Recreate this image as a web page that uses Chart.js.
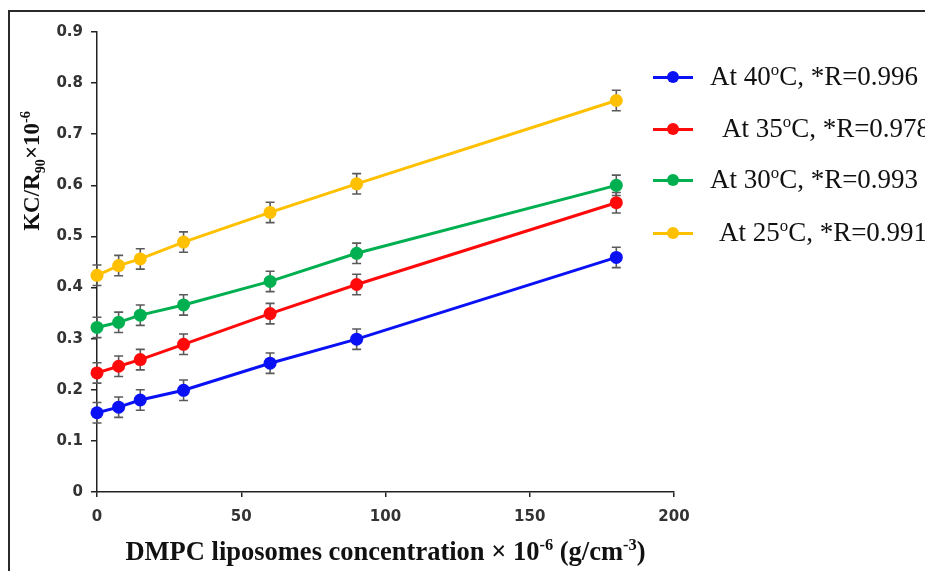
<!DOCTYPE html>
<html lang="en">
<head>
    <meta charset="UTF-8">
    <title>KC/R90 vs DMPC liposomes concentration</title>
    <script src="https://cdn.jsdelivr.net/npm/chart.js"></script>
    <style>
        body {
            margin: 0;
            background: #ffffff;
        }

        .wrap {
            position: relative;
            width: 925px;
            height: 571px;
            overflow: hidden;
        }

        .frame {
            position: absolute;
            left: 8px;
            top: 10px;
            width: 940px;
            height: 600px;
            border-top: 2px solid #2a2a2a;
            border-left: 2px solid #2a2a2a;
        }

        canvas {
            position: absolute;
            left: 0;
            top: 0;
        }

        .x-title {
            position: absolute;
            left: 97px;
            width: 577px;
            top: 536px;
            text-align: center;
            font: bold 26.5px "Liberation Serif", "Times New Roman", serif;
            color: #111;
            white-space: nowrap;
        }

        .y-title {
            position: absolute;
            left: 32px;
            top: 171px;
            transform: translate(-50%, -50%) rotate(-90deg);
            font: bold 23px "Liberation Serif", "Times New Roman", serif;
            color: #111;
            white-space: nowrap;
        }

        sup, sub {
            font-size: 62%;
            line-height: 0;
        }

        .legend-item {
            position: absolute;
            height: 0;
        }

        .legend-item .swatch {
            position: absolute;
            left: 0;
            top: -1.5px;
            width: 40px;
            height: 3px;
        }

        .legend-item .dot {
            position: absolute;
            left: 14px;
            top: -6px;
            width: 12px;
            height: 12px;
            border-radius: 50%;
        }

        .legend-item .label {
            position: absolute;
            top: -17px;
            font: 27px "Liberation Serif", "Times New Roman", serif;
            color: #111;
            white-space: nowrap;
            line-height: 32px;
        }
    </style>
</head>
<body>
<div class="wrap">
    <canvas id="kcChart" width="925" height="571"></canvas>
    <div class="frame"></div>
    <div class="y-title">KC/R<sub>90</sub>×10<sup>-6</sup></div>
    <div class="x-title">DMPC liposomes concentration × 10<sup>-6</sup> (g/cm<sup>-3</sup>)</div>
    <div id="legend"></div>
</div>

<script>
    // concentration of DMPC liposomes (x 10^-6 g/cm^3)
    var concentration = [0, 7.5, 15, 30, 60, 90, 180];

    // KC/R90 x 10^-6 at each temperature
    var kc40 = [0.155, 0.166, 0.180, 0.199, 0.252, 0.299, 0.459];
    var kc35 = [0.233, 0.246, 0.259, 0.289, 0.349, 0.406, 0.566];
    var kc30 = [0.322, 0.332, 0.346, 0.366, 0.412, 0.467, 0.600];
    var kc25 = [0.424, 0.443, 0.456, 0.489, 0.547, 0.603, 0.766];

    // standard error used for every point
    var errorBar = 0.02;

    var seriesTemps = ['40', '35', '30', '25'];
    var seriesR = ['0.996', '0.978', '0.993', '0.991'];
    var seriesColors = ['#0a12f5', '#ff0a0a', '#00b050', '#ffc000'];

    var xTicks = [0, 50, 100, 150, 200];
    var yTicks = [0, 0.1, 0.2, 0.3, 0.4, 0.5, 0.6, 0.7, 0.8, 0.9];

    function toPoints(ys) {
        return concentration.map(function (c, i) { return { x: c, y: ys[i] }; });
    }

    var datasets = [kc40, kc35, kc30, kc25].map(function (ys, i) {
        return {
            label: 'At ' + seriesTemps[i] + 'oC, *R=' + seriesR[i],
            data: toPoints(ys),
            borderColor: seriesColors[i],
            backgroundColor: seriesColors[i],
            borderWidth: 3,
            pointRadius: 6.5,
            pointHoverRadius: 6.5,
            pointBorderWidth: 0,
            tension: 0,
            clip: false
        };
    });

    // vertical error bars with caps, drawn from the scales
    var errorBars = {
        id: 'errorBars',
        beforeDatasetsDraw: function (chart) {
            var ctx = chart.ctx;
            var xs = chart.scales.x, ys = chart.scales.y;
            ctx.save();
            ctx.strokeStyle = '#5a5a5a';
            ctx.lineWidth = 1.6;
            chart.data.datasets.forEach(function (ds) {
                ds.data.forEach(function (p) {
                    var px = xs.getPixelForValue(p.x);
                    var top = ys.getPixelForValue(p.y + errorBar);
                    var bot = ys.getPixelForValue(p.y - errorBar);
                    ctx.beginPath();
                    ctx.moveTo(px, top); ctx.lineTo(px, bot);
                    ctx.moveTo(px - 4.5, top); ctx.lineTo(px + 4.5, top);
                    ctx.moveTo(px - 4.5, bot); ctx.lineTo(px + 4.5, bot);
                    ctx.stroke();
                });
            });
            ctx.restore();
        }
    };

    var tickFont = { family: '"DejaVu Sans", Verdana, sans-serif', size: 15, weight: 'bold' };

    var ctx = document.getElementById('kcChart').getContext('2d');
    var kcChart = new Chart(ctx, {
        type: 'line',
        data: { datasets: datasets },
        options: {
            responsive: false,
            animation: false,
            layout: { padding: { left: 0, top: 32, right: 251, bottom: 39 } },
            plugins: {
                legend: { display: false },
                tooltip: { enabled: false }
            },
            scales: {
                x: {
                    type: 'linear',
                    min: 0,
                    max: 200,
                    afterBuildTicks: function (s) { s.ticks = xTicks.map(function (v) { return { value: v }; }); },
                    afterFit: function (s) { s.height = 40; },
                    grid: { drawOnChartArea: false, drawTicks: true, tickLength: 5, color: '#222', lineWidth: 1.5 },
                    border: { color: '#222', width: 1.5 },
                    ticks: { font: tickFont, color: '#333', padding: 11, maxRotation: 0 }
                },
                y: {
                    min: 0,
                    max: 0.9,
                    afterBuildTicks: function (s) { s.ticks = yTicks.map(function (v) { return { value: v }; }); },
                    afterFit: function (s) { s.width = 97; },
                    grid: { drawOnChartArea: false, drawTicks: true, tickLength: 6, color: '#222', lineWidth: 1.5 },
                    border: { color: '#222', width: 1.5 },
                    ticks: {
                        font: tickFont,
                        color: '#333',
                        padding: 8,
                        callback: function (v) { return String(Math.round(v * 10) / 10); }
                    }
                }
            }
        },
        plugins: [errorBars]
    });

    // legend to the right of the plot
    var legendRows = [77, 129, 180, 233];
    var legendText = [710, 722, 710, 719];
    var legend = document.getElementById('legend');
    seriesTemps.forEach(function (t, i) {
        var item = document.createElement('div');
        item.className = 'legend-item';
        item.style.left = '653px';
        item.style.top = legendRows[i] + 'px';
        item.innerHTML =
            '<div class="swatch" style="background:' + seriesColors[i] + '"></div>' +
            '<div class="dot" style="background:' + seriesColors[i] + '"></div>' +
            '<div class="label" style="left:' + (legendText[i] - 653) + 'px">At ' + t +
            '<sup>o</sup>C, *R=' + seriesR[i] + '</div>';
        legend.appendChild(item);
    });
</script>
</body>
</html>
